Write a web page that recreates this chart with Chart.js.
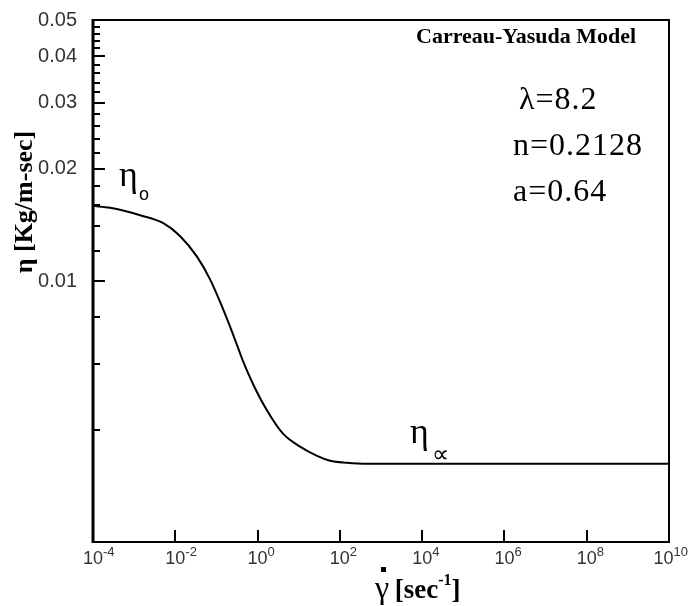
<!DOCTYPE html>
<html>
<head>
<meta charset="utf-8">
<script src="https://cdn.jsdelivr.net/npm/chart.js@4.4.1/dist/chart.umd.min.js"></script>
<style>
  html, body { margin: 0; padding: 0; background: #fff; }
  #wrap { width: 688px; height: 606px; }
</style>
</head>
<body>
<div id="wrap"><canvas id="grafico" width="688" height="606"></canvas></div>
<script>
// ================== Datos ==================
// tasa de corte (1/s) y viscosidad (Kg/m-s)
const SHEAR_RATE = [1e-4, 2.6e-4, 1.4e-3, 5e-3, 0.013, 0.034, 0.07, 0.122, 0.253, 0.443, 0.774, 1.7, 4.15, 10.8, 27.9, 57.7, 149, 457, 1e4, 1e6, 1e8, 1e10];
const VISCOSITY  = [0.0159, 0.0157, 0.0150, 0.0143, 0.0132, 0.0116, 0.0101, 0.0088, 0.0072, 0.0061, 0.0053, 0.0045, 0.0039, 0.0036, 0.0034, 0.0033, 0.00326, 0.00324, 0.00324, 0.00324, 0.00324, 0.00324];

const X_TICKS = [1e-4, 1e-2, 1e0, 1e2, 1e4, 1e6, 1e8, 1e10];
const X_EXP   = ["-4", "-2", "0", "2", "4", "6", "8", "10"];
const Y_TICKS  = [0.01, 0.02, 0.03, 0.04, 0.05];
const Y_LABELS = ["0.01", "0.02", "0.03", "0.04", "0.05"];
const Y_MINOR  = [0.004, 0.006, 0.008, 0.012, 0.014, 0.016, 0.018, 0.022, 0.024, 0.026, 0.028,
                  0.032, 0.034, 0.036, 0.038, 0.042, 0.044, 0.046, 0.048];

const SANS = "'Liberation Sans', Arial, sans-serif";
const SERIF = "'Liberation Serif', 'Times New Roman', serif";

// ================== Marco, marcas y textos ==================
const decoraciones = {
  id: "decoraciones",
  afterDraw(chart) {
    const ctx = chart.ctx;
    const a = chart.chartArea;
    const xs = chart.scales.x, ys = chart.scales.y;
    ctx.save();
    ctx.strokeStyle = "#000";
    ctx.fillStyle = "#000";

    // marco
    ctx.lineWidth = 2;
    ctx.strokeRect(a.left, a.top, a.right - a.left, a.bottom - a.top);
    ctx.lineWidth = 3;
    ctx.beginPath(); ctx.moveTo(a.left, a.top - 1); ctx.lineTo(a.left, a.bottom + 1); ctx.stroke();

    // marcas eje y (hacia adentro)
    ctx.lineWidth = 2;
    ctx.beginPath();
    Y_TICKS.forEach(v => { const y = Math.round(ys.getPixelForValue(v)); ctx.moveTo(a.left, y); ctx.lineTo(a.left + 12, y); });
    Y_MINOR.forEach(v => { const y = Math.round(ys.getPixelForValue(v)); ctx.moveTo(a.left, y); ctx.lineTo(a.left + 7, y); });
    ctx.stroke();

    // marcas y etiquetas eje x
    ctx.beginPath();
    X_TICKS.forEach(v => { const x = Math.round(xs.getPixelForValue(v)); ctx.moveTo(x, a.bottom); ctx.lineTo(x, a.bottom - 12); });
    ctx.stroke();
    ctx.fillStyle = "#333";
    ctx.textBaseline = "alphabetic";
    ctx.textAlign = "left";
    X_TICKS.forEach((v, i) => {
      ctx.font = "18px " + SANS;
      const w = ctx.measureText("10").width;
      ctx.font = "13px " + SANS;
      const we = ctx.measureText(X_EXP[i]).width;
      let x = xs.getPixelForValue(v) - w / 2;
      if (x + w + we > chart.width) x = chart.width - w - we;
      ctx.font = "18px " + SANS;
      ctx.fillText("10", x, a.bottom + 22);
      ctx.font = "13px " + SANS;
      ctx.fillText(X_EXP[i], x + w, a.bottom + 14);
    });

    // titulo eje x
    ctx.fillStyle = "#000";
    ctx.font = "32px " + SERIF;
    ctx.fillText("\u03b3", 375, 598);
    ctx.fillRect(381, 567, 5, 5);
    let x = 388;
    ctx.font = "bold 27px " + SERIF;
    ctx.fillText(" [sec", x, 598);
    x += ctx.measureText(" [sec").width;
    ctx.font = "bold 16px " + SERIF;
    ctx.fillText("-1", x, 585);
    x += ctx.measureText("-1").width;
    ctx.font = "bold 27px " + SERIF;
    ctx.fillText("]", x, 598);

    // titulo eje y
    ctx.save();
    ctx.translate(32, 202);
    ctx.rotate(-Math.PI / 2);
    ctx.textAlign = "center";
    ctx.font = "bold 26px " + SERIF;
    ctx.fillText("\u03b7 [Kg/m-sec]", 0, 0);
    ctx.restore();

    // anotaciones
    ctx.textAlign = "left";
    ctx.font = "bold 22px " + SERIF;
    ctx.fillText("Carreau-Yasuda Model", 416, 43);
    ctx.font = "32px " + SERIF;
    ctx.letterSpacing = "1px";
    ctx.fillText("\u03bb=8.2", 519, 109);
    ctx.fillText("n=0.2128", 513, 155);
    ctx.fillText("a=0.64", 513, 201);
    ctx.letterSpacing = "0px";

    ctx.font = "36px " + SERIF;
    ctx.fillText("\u03b7", 119, 186);
    ctx.font = "18px " + SANS;
    ctx.fillText("o", 139, 200);
    ctx.font = "36px " + SERIF;
    ctx.fillText("\u03b7", 410, 443);
    ctx.font = "24px " + SANS;
    ctx.fillText("\u221d", 432, 462);
    ctx.restore();
  }
};

// ================== Grafica ==================
const puntos = SHEAR_RATE.map((g, i) => ({ x: g, y: VISCOSITY[i] }));

new Chart(document.getElementById("grafico").getContext("2d"), {
  type: "line",
  data: {
    datasets: [{
      data: puntos,
      borderColor: "#000",
      borderWidth: 2,
      pointRadius: 0,
      fill: false,
      cubicInterpolationMode: "monotone"
    }]
  },
  options: {
    responsive: false,
    animation: false,
    events: [],
    layout: { padding: { top: 15, right: 19, left: 0, bottom: 0 } },
    plugins: { legend: { display: false }, tooltip: { enabled: false } },
    scales: {
      x: {
        type: "logarithmic",
        min: 1e-4,
        max: 1e10,
        grid: { display: false },
        border: { display: false },
        ticks: { display: false },
        afterFit: s => { s.height = 64; }
      },
      y: {
        type: "logarithmic",
        min: 0.002,
        max: 0.05,
        grid: { display: false },
        border: { display: false },
        afterBuildTicks: s => { s.ticks = Y_TICKS.map(v => ({ value: v })); },
        ticks: {
          autoSkip: false,
          padding: 8,
          color: "#333",
          font: { family: SANS, size: 20 },
          callback: v => Y_LABELS[Y_TICKS.indexOf(v)]
        },
        afterFit: s => { s.width = 93; }
      }
    }
  },
  plugins: [decoraciones]
});
</script>
</body>
</html>
